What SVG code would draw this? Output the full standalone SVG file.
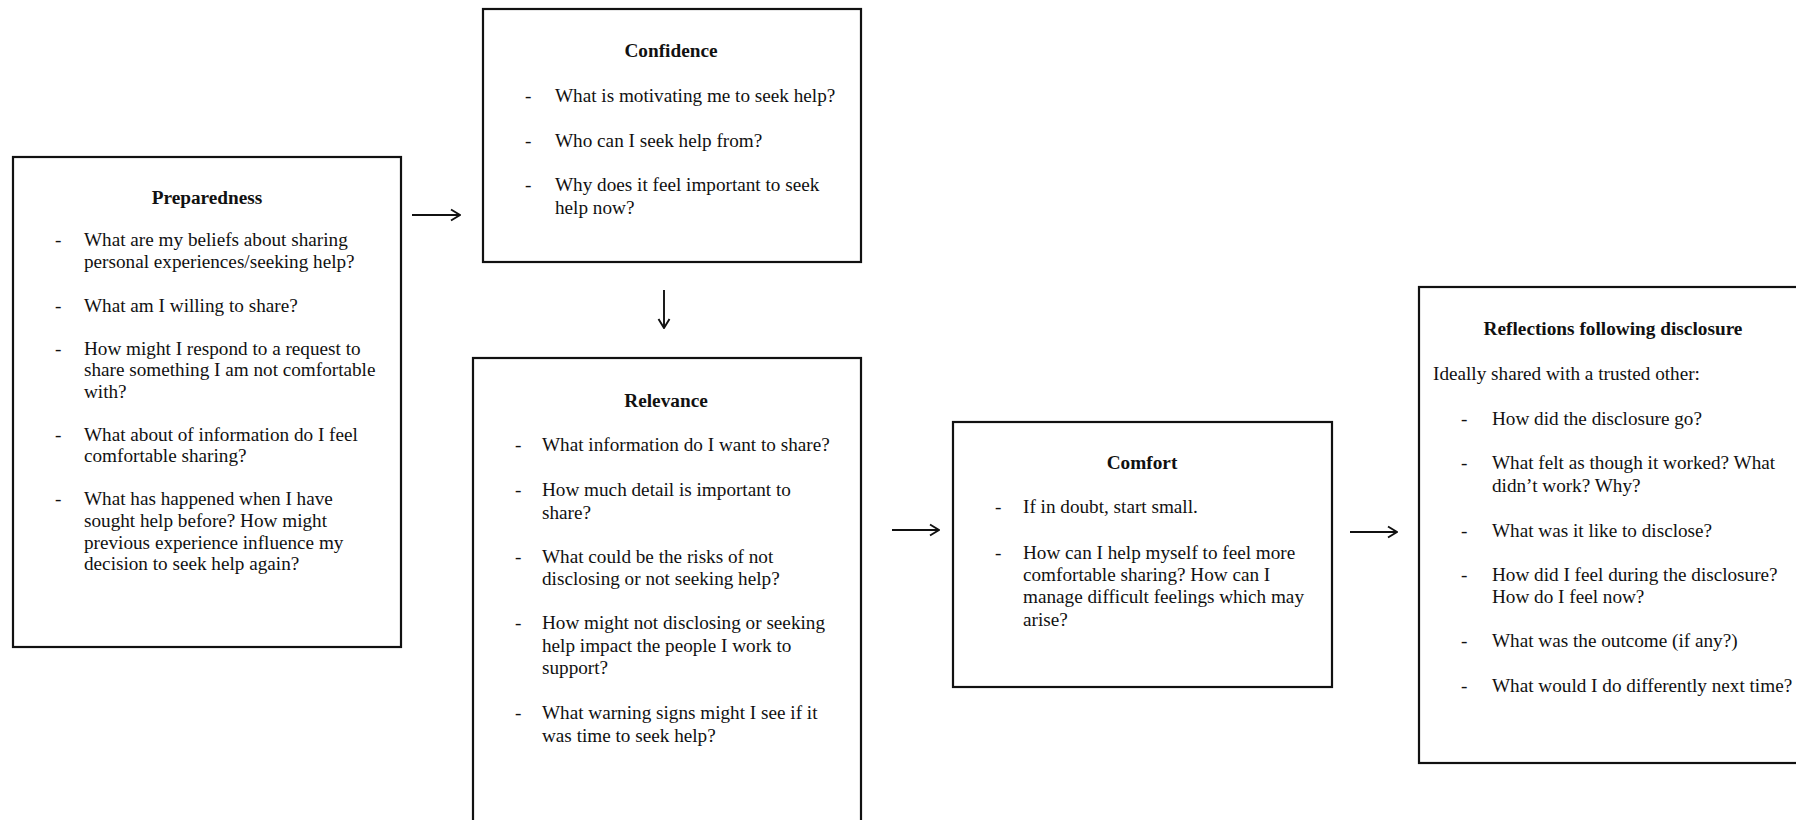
<svg xmlns="http://www.w3.org/2000/svg" width="1796" height="820" viewBox="0 0 1796 820">
<style>
.box{fill:#fff;stroke:#111;stroke-width:2.2}
text{font-family:"Liberation Serif","Times New Roman",serif;font-size:19.2px;fill:#111}
.t{font-weight:bold;text-anchor:middle;font-size:19.3px}
.c{stroke:#111;stroke-width:1.9;fill:none}
</style>
<defs>
<marker id="ah" viewBox="0 0 14 14" refX="13" refY="7" markerWidth="14" markerHeight="14" markerUnits="userSpaceOnUse" orient="auto">
<path d="M4,1.5 L13,7 L4,12.5" fill="none" stroke="#111" stroke-width="1.9"/>
</marker>
</defs>
<rect width="1796" height="820" fill="#fff"/>
<g id="connectors">
<line class="c" x1="412" y1="215" x2="460" y2="215" marker-end="url(#ah)"/>
<line class="c" x1="664" y1="290" x2="664" y2="328" marker-end="url(#ah)"/>
<line class="c" x1="892" y1="530" x2="939" y2="530" marker-end="url(#ah)"/>
<line class="c" x1="1350" y1="532" x2="1397" y2="532" marker-end="url(#ah)"/>
</g>
<g id="preparedness">
<rect class="box" x="13" y="157" width="388" height="490"/>
<text class="t" x="207" y="204">Preparedness</text>
<text x="55" y="246">-</text><text x="84" y="246">What are my beliefs about sharing</text>
<text x="84" y="268">personal experiences/seeking help?</text>
<text x="55" y="312">-</text><text x="84" y="312">What am I willing to share?</text>
<text x="55" y="355">-</text><text x="84" y="355">How might I respond to a request to</text>
<text x="84" y="376">share something I am not comfortable</text>
<text x="84" y="398">with?</text>
<text x="55" y="441">-</text><text x="84" y="441">What about of information do I feel</text>
<text x="84" y="462">comfortable sharing?</text>
<text x="55" y="505">-</text><text x="84" y="505">What has happened when I have</text>
<text x="84" y="527">sought help before? How might</text>
<text x="84" y="549">previous experience influence my</text>
<text x="84" y="570">decision to seek help again?</text>
</g>
<g id="confidence">
<rect class="box" x="483" y="9" width="378" height="253"/>
<text class="t" x="671" y="57">Confidence</text>
<text x="525" y="102">-</text><text x="555" y="102">What is motivating me to seek help?</text>
<text x="525" y="147">-</text><text x="555" y="147">Who can I seek help from?</text>
<text x="525" y="191">-</text><text x="555" y="191">Why does it feel important to seek</text>
<text x="555" y="214">help now?</text>
</g>
<g id="relevance">
<rect class="box" x="473" y="358" width="388" height="490"/>
<text class="t" x="666" y="407">Relevance</text>
<text x="515" y="451">-</text><text x="542" y="451">What information do I want to share?</text>
<text x="515" y="496">-</text><text x="542" y="496">How much detail is important to</text>
<text x="542" y="519">share?</text>
<text x="515" y="563">-</text><text x="542" y="563">What could be the risks of not</text>
<text x="542" y="585">disclosing or not seeking help?</text>
<text x="515" y="629">-</text><text x="542" y="629">How might not disclosing or seeking</text>
<text x="542" y="652">help impact the people I work to</text>
<text x="542" y="674">support?</text>
<text x="515" y="719">-</text><text x="542" y="719">What warning signs might I see if it</text>
<text x="542" y="742">was time to seek help?</text>
</g>
<g id="comfort">
<rect class="box" x="953" y="422" width="379" height="265"/>
<text class="t" x="1142" y="469">Comfort</text>
<text x="995" y="513">-</text><text x="1023" y="513">If in doubt, start small.</text>
<text x="995" y="559">-</text><text x="1023" y="559">How can I help myself to feel more</text>
<text x="1023" y="581">comfortable sharing? How can I</text>
<text x="1023" y="603">manage difficult feelings which may</text>
<text x="1023" y="626">arise?</text>
</g>
<g id="reflections">
<rect class="box" x="1419" y="287" width="400" height="476"/>
<text class="t" x="1613" y="335">Reflections following disclosure</text>
<text x="1433" y="380">Ideally shared with a trusted other:</text>
<text x="1461" y="425">-</text><text x="1492" y="425">How did the disclosure go?</text>
<text x="1461" y="469">-</text><text x="1492" y="469">What felt as though it worked? What</text>
<text x="1492" y="492">didn’t work? Why?</text>
<text x="1461" y="537">-</text><text x="1492" y="537">What was it like to disclose?</text>
<text x="1461" y="581">-</text><text x="1492" y="581">How did I feel during the disclosure?</text>
<text x="1492" y="603">How do I feel now?</text>
<text x="1461" y="647">-</text><text x="1492" y="647">What was the outcome (if any?)</text>
<text x="1461" y="692">-</text><text x="1492" y="692">What would I do differently next time?</text>
</g>
</svg>
